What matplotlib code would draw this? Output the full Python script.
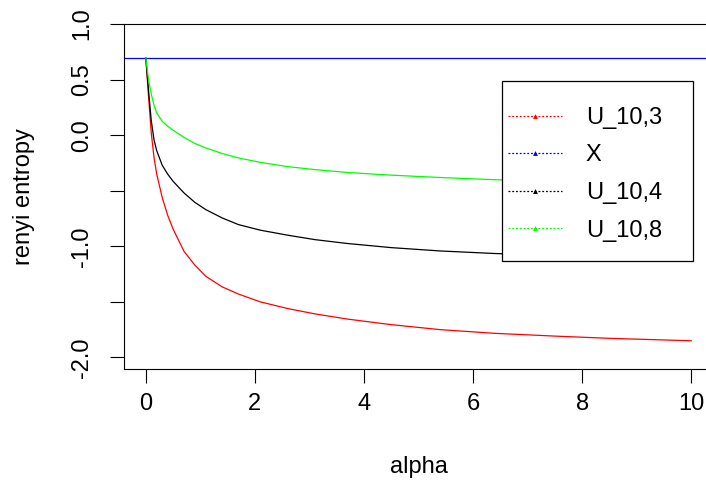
import matplotlib
matplotlib.use("Agg")
import matplotlib.pyplot as plt
from matplotlib.lines import Line2D
from matplotlib.patches import Rectangle

plt.rcParams['font.family'] = ['Liberation Sans', 'DejaVu Sans']

# alpha grid and renyi entropy values
alpha = [0, 0.05, 0.1, 0.15, 0.2, 0.3, 0.4, 0.5, 0.7, 0.9, 1.1, 1.4, 1.7,
         2.1, 2.6, 3.1, 3.7, 4.5, 5.4, 6.4, 7.5, 8.5, 10]
u_10_3 = [0.693, 0.35, 0.02, -0.2, -0.35, -0.56, -0.72, -0.845, -1.045, -1.17,
          -1.27, -1.365, -1.43, -1.50, -1.56, -1.608, -1.655, -1.705, -1.75,
          -1.783, -1.808, -1.828, -1.85]
u_10_4 = [0.693, 0.40, 0.13, -0.04, -0.14, -0.27, -0.35, -0.415, -0.52, -0.605,
          -0.67, -0.745, -0.805, -0.855, -0.90, -0.94, -0.975, -1.012, -1.042,
          -1.065, -1.082, -1.094, -1.108]
u_10_8 = [0.693, 0.50, 0.37, 0.27, 0.20, 0.125, 0.08, 0.045, -0.02, -0.075,
          -0.115, -0.165, -0.205, -0.245, -0.283, -0.31, -0.336, -0.36, -0.381,
          -0.401, -0.415, -0.425, -0.438]
x_level = 0.693  # log(2)

legend_labels = ["U_10,3", "X", "U_10,4", "U_10,8"]
legend_colors = ["#ff0000", "#0000ff", "#000000", "#00ff00"]

yticks = [-2.0, -1.5, -1.0, -0.5, 0.0, 0.5, 1.0]
ytick_labels = ["-2.0", "", "-1.0", "", "0.0", "0.5", "1.0"]
xticks = [0, 2, 4, 6, 8, 10]

fig = plt.figure(figsize=(7.06, 4.94), dpi=100)
ax = fig.add_axes([124/706, 125/494, 589/706, 345/494])

ax.plot(alpha, u_10_3, color="#ff0000", lw=0.9)
ax.axhline(x_level, color="#0000ff", lw=0.9)
ax.plot(alpha, u_10_4, color="#000000", lw=0.9)
ax.plot(alpha, u_10_8, color="#00ff00", lw=0.9)

ax.set_xlim(-0.4, 10.4)
ax.set_ylim(-2.104, 1.0)
ax.set_xticks(xticks)
ax.set_xticklabels([str(t) for t in xticks])
ax.set_yticks(yticks)
ax.set_yticklabels(ytick_labels, rotation=90, va="center")
ax.tick_params(axis="both", direction="out", length=10, width=0.8,
               labelsize=17, colors="#000000")
ax.tick_params(axis="x", pad=7)
ax.tick_params(axis="y", pad=12)
for s in ax.spines.values():
    s.set_linewidth(0.8)

ax.set_xlabel("alpha", fontsize=17, labelpad=30)
ax.set_ylabel("renyi entropy", fontsize=17, labelpad=26)

# legend box like R's legend(): white, black border, covering the lines
frame = Rectangle((502/706, 1 - 261/494), 191/706, 180/494,
                  transform=fig.transFigure, facecolor="white",
                  edgecolor="black", lw=0.9, zorder=3)
fig.patches.append(frame)

handles = [Line2D([0, 1, 2], [0, 0, 0], color=c, lw=0.9, ls=(0, (1.5, 1.5)),
                  marker="^", markersize=3.5, markevery=[1], markeredgewidth=0)
           for c in legend_colors]
leg = fig.legend(handles, legend_labels, loc="upper left",
                 bbox_to_anchor=(502/706, 1 - 101/494),
                 fontsize=17, frameon=False, borderpad=0.25,
                 labelspacing=0.66, handlelength=2.3, handletextpad=1.0,
                 borderaxespad=0)
leg.set_zorder(4)

fig.savefig("out.png", dpi=100)
